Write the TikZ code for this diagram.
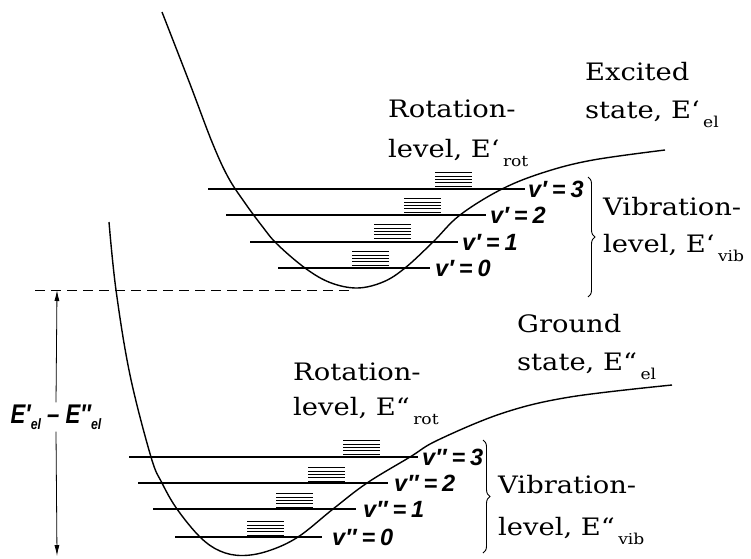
\documentclass[tikz,border=0pt]{standalone}
\usepackage{fontspec}
\usepackage{graphicx}
\usetikzlibrary{arrows.meta,decorations.pathreplacing}
\newfontfamily\serifx{DejaVu Serif}
\newfontfamily\sansx{Liberation Sans}
\newcommand\sx[1]{\scalebox{1.14}[1]{#1}}
\newcommand\sbx[1]{\hspace{3pt}\raisebox{-9pt}{\fontsize{15}{15}\selectfont #1}}
\newcommand\vl[2]{v#1\hspace{5pt}=\hspace{5pt}#2}
\newcommand\rotbars[2]{\foreach \k in {0,...,4} {\draw[rotl] (#1,{#2-\k*3.3}) -- ++(37,0);}}
\begin{document}
\begin{tikzpicture}[x=1pt,y=-1pt,
  lvl/.style={line width=2pt},
  rotl/.style={line width=0.7pt},
  pes/.style={line width=1.4pt},
  vlab/.style={font=\sansx\bfseries\itshape\fontsize{23.5}{23.5}\selectfont, anchor=west, inner sep=0pt},
  txt/.style={font=\serifx\fontsize{24}{24}\selectfont, anchor=base west, inner sep=0pt},
  brc/.style={decorate, decoration={brace, amplitude=7pt}, line width=0.9pt}]
\useasboundingbox (0,0) rectangle (751,558);
% potential curves
\draw[pes] plot[smooth, tension=0.6] coordinates {(162,12) (190,84) (212,142) (228,177) (245,203) (262,226) (277,244) (305,268) (330,282.5) (357,288) (383,282) (405,268) (433,242) (460,215) (502,189) (545,172) (593,160) (665,150)};
\draw[pes] plot[smooth, tension=0.6] coordinates {(109,222) (116,290) (130,375) (151,457) (162,483) (177,509) (200,537) (220,551) (242,555.5) (268,551) (298,537) (333,509) (367,483) (410,457) (438,440) (503,413) (570,397) (672,385)};
% upper vibrational levels
\coordinate (u3a) at (208,189); \coordinate (u3b) at (525,189);
\coordinate (u2a) at (226,215); \coordinate (u2b) at (486,215);
\coordinate (u1a) at (250,242); \coordinate (u1b) at (458,242);
\coordinate (u0a) at (278,268); \coordinate (u0b) at (430,268);
\draw[lvl] (u3a) -- (u3b);
\draw[lvl] (u2a) -- (u2b);
\draw[lvl] (u1a) -- (u1b);
\draw[lvl] (u0a) -- (u0b);
\node[vlab] (lu3) at ([xshift=3pt]u3b) {\vl{′}{3}};
\node[vlab] (lu2) at ([xshift=4pt]u2b) {\vl{′}{2}};
\node[vlab] (lu1) at ([xshift=4pt]u1b) {\vl{′}{1}};
\node[vlab] (lu0) at ([xshift=5pt]u0b) {\vl{′}{0}};
\rotbars{435}{186}
\rotbars{404}{212}
\rotbars{374}{238}
\rotbars{352}{265}
% lower vibrational levels
\coordinate (g3a) at (129,457); \coordinate (g3b) at (418,457);
\coordinate (g2a) at (138,483); \coordinate (g2b) at (388,483);
\coordinate (g1a) at (153,509); \coordinate (g1b) at (356,509);
\coordinate (g0a) at (175,537); \coordinate (g0b) at (322,537);
\draw[lvl] (g3a) -- (g3b);
\draw[lvl] (g2a) -- (g2b);
\draw[lvl] (g1a) -- (g1b);
\draw[lvl] (g0a) -- (g0b);
\node[vlab] (lg3) at ([xshift=4pt]g3b) {\vl{″}{3}};
\node[vlab] (lg2) at ([xshift=6pt]g2b) {\vl{″}{2}};
\node[vlab] (lg1) at ([xshift=7pt]g1b) {\vl{″}{1}};
\node[vlab] (lg0) at ([xshift=10pt]g0b) {\vl{″}{0}};
\rotbars{343}{454}
\rotbars{308}{481}
\rotbars{276}{507}
\rotbars{247}{535}
% dashed reference and energy gap arrow
\coordinate (da) at (35,290); \coordinate (db) at (352,290);
\draw[line width=0.8pt, dash pattern=on 10pt off 6pt] (da) -- (db);
\coordinate (at) at (57,290); \coordinate (ab) at (57,556);
\node[font=\sansx\bfseries\itshape\fontsize{27}{27}\selectfont, fill=white, inner sep=2pt] (gap) at (56,417)
  {\scalebox{0.82}[1]{E′\raisebox{-6pt}{\fontsize{15}{15}\selectfont el} – E″\raisebox{-6pt}{\fontsize{15}{15}\selectfont el}}};
\draw[line width=0.8pt, -{Latex[length=11pt,width=5pt]}] (gap.north) -- (at);
\draw[line width=0.8pt, -{Latex[length=11pt,width=5pt]}] (gap.south) -- (ab);
% braces
\coordinate (b1t) at (588,177); \coordinate (b1b) at (588,297);
\draw[brc] (b1t) -- (b1b);
\coordinate (b2t) at (483,440); \coordinate (b2b) at (483,553);
\draw[brc] (b2t) -- (b2b);
% texts
\node[txt] (ex1) at (585,80) {\sx{Excited}};
\node[txt] (ex2) at (585,118) {\sx{state, E‘\sbx{el}}};
\node[txt] (ru1) at (388,117) {\sx{Rotation-}};
\node[txt] (ru2) at (388,157) {\sx{level, E‘\sbx{rot}}};
\node[txt] (vu1) at (603,215) {\sx{Vibration-}};
\node[txt] (vu2) at (603,252) {\sx{level, E‘\sbx{vib}}};
\node[txt] (gr1) at (517,332) {\sx{Ground}};
\node[txt] (gr2) at (517,370) {\sx{state, E“\sbx{el}}};
\node[txt] (rg1) at (293,380) {\sx{Rotation-}};
\node[txt] (rg2) at (293,415) {\sx{level, E“\sbx{rot}}};
\node[txt] (vg1) at (498,493) {\sx{Vibration-}};
\node[txt] (vg2) at (498,535) {\sx{level, E“\sbx{vib}}};
\end{tikzpicture}
\end{document}
